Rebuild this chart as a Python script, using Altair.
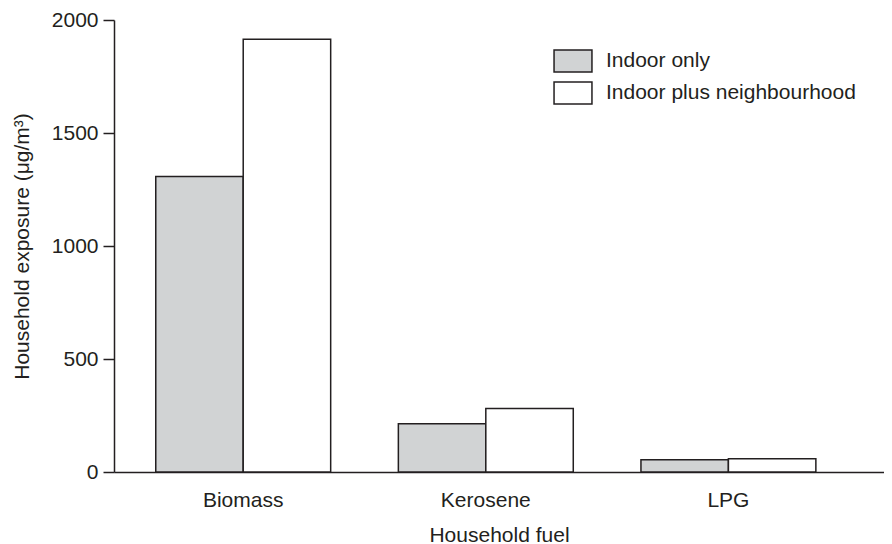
import altair as alt
import pandas as pd

fuels = ["Biomass", "Kerosene", "LPG"]
series = ["Indoor only", "Indoor plus neighbourhood"]
indoor_only = [1307, 214, 54]
indoor_plus = [1915, 281, 59]
y_ticks = [0, 500, 1000, 1500, 2000]

rows = []
for f, a, b in zip(fuels, indoor_only, indoor_plus):
    rows.append({"fuel": f, "series": series[0], "value": a})
    rows.append({"fuel": f, "series": series[1], "value": b})
df = pd.DataFrame(rows)

INK = "#231f20"
FONT = "Liberation Sans"
FS = 21

chart = alt.Chart(df).mark_bar(stroke=INK, strokeWidth=1.5).encode(
    x=alt.X("fuel:N", sort=fuels,
            scale=alt.Scale(paddingInner=0.279, paddingOuter=0.2265, align=0.38),
            axis=alt.Axis(title="Household fuel", labelAngle=0, ticks=False, tickSize=0,
                          labelPadding=17, titlePadding=14)),
    xOffset=alt.XOffset("series:N", sort=series,
                        scale=alt.Scale(paddingInner=0, paddingOuter=0)),
    y=alt.Y("value:Q", scale=alt.Scale(domain=[0, 2000], nice=False),
            axis=alt.Axis(title="Household exposure (μg/m³)", values=y_ticks, format="d",
                          tickSize=11, labelPadding=5, titlePadding=19, grid=False)),
    color=alt.Color("series:N", sort=series,
                    scale=alt.Scale(domain=series, range=["#d1d3d4", "#ffffff"]),
                    legend=alt.Legend(title=None, orient="none", legendX=446, legendY=28,
                                      symbolType="M-1.58,-0.92H1.58V0.92H-1.58Z",
                                      symbolSize=576, symbolStrokeColor=INK,
                                      symbolStrokeWidth=1.5, symbolOpacity=1,
                                      labelOffset=20, rowPadding=2, padding=0,
                                      labelLimit=400,
                                      labelFontSize=FS, labelFont=FONT, labelColor=INK)),
).properties(
    width=770, height=452,
    background="white",
    autosize=alt.AutoSizeParams(type="none"),
    padding={"left": 106, "top": 12, "right": 0, "bottom": 72},
).configure_view(stroke=None).configure_axis(
    labelFont=FONT, titleFont=FONT, labelFontSize=FS, titleFontSize=FS,
    labelColor=INK, titleColor=INK, titleFontWeight="normal",
    domainColor=INK, tickColor=INK, domainWidth=1.5, tickWidth=1.5, grid=False,
)

chart.save("out.html", embed_options={"renderer": "svg", "actions": False})
